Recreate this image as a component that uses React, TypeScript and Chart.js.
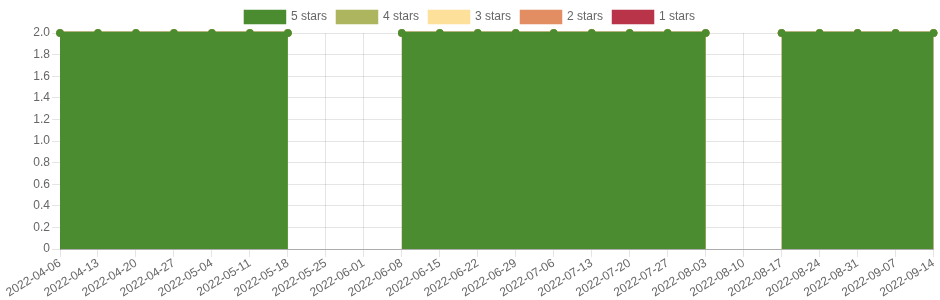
import React, { useEffect, useRef } from "react";
import { Chart, registerables } from "chart.js";

Chart.register(...registerables);

const labels = [
  "2022-04-06", "2022-04-13", "2022-04-20", "2022-04-27", "2022-05-04", "2022-05-11",
  "2022-05-18", "2022-05-25", "2022-06-01", "2022-06-08", "2022-06-15", "2022-06-22",
  "2022-06-29", "2022-07-06", "2022-07-13", "2022-07-20", "2022-07-27", "2022-08-03",
  "2022-08-10", "2022-08-17", "2022-08-24", "2022-08-31", "2022-09-07", "2022-09-14",
];

const stars5 = [2, 2, 2, 2, 2, 2, 2, null, null, 2, 2, 2, 2, 2, 2, 2, 2, 2, null, 2, 2, 2, 2, 2];
const stars4 = [0, 0, 0, 0, 0, 0, 0, null, null, 0, 0, 0, 0, 0, 0, 0, 0, 0, null, 0, 0, 0, 0, 0];
const stars3 = [0, 0, 0, 0, 0, 0, 0, null, null, 0, 0, 0, 0, 0, 0, 0, 0, 0, null, 0, 0, 0, 0, 0];
const stars2 = [0, 0, 0, 0, 0, 0, 0, null, null, 0, 0, 0, 0, 0, 0, 0, 0, 0, null, 0, 0, 0, 0, 0];
const stars1 = [0, 0, 0, 0, 0, 0, 0, null, null, 0, 0, 0, 0, 0, 0, 0, 0, 0, null, 0, 0, 0, 0, 0];

const seriesNames = ["5 stars", "4 stars", "3 stars", "2 stars", "1 stars"];
const seriesColors = ["#4a8c2f", "#adb55e", "#fde09a", "#e38d62", "#b93448"];

export default function App() {
  const ref = useRef<HTMLCanvasElement>(null);
  useEffect(() => {
    document.body.style.margin = "0";
    const values = [stars5, stars4, stars3, stars2, stars1];
    const font = { family: "'Liberation Sans', Arial, sans-serif", size: 12 };
    const chart = new Chart(ref.current!, {
      type: "line",
      data: {
        labels,
        datasets: values.map((v, i) => ({
          label: seriesNames[i],
          data: v,
          borderColor: seriesColors[i],
          backgroundColor: seriesColors[i],
          pointBackgroundColor: seriesColors[i],
          pointBorderColor: seriesColors[i],
          pointRadius: 3.5,
          pointBorderWidth: 1,
          borderWidth: 2.5,
          fill: "origin",
          tension: 0,
          clip: false,
        })),
      },
      options: {
        animation: false,
        responsive: false,
        maintainAspectRatio: false,
        layout: { padding: { top: 1 } },
        plugins: {
          legend: {
            labels: { font, color: "#666", boxWidth: 40 },
          },
          tooltip: { enabled: false },
        },
        scales: {
          x: {
            stacked: true,
            ticks: {
              font,
              color: "#666",
              autoSkip: false,
              minRotation: 31,
              maxRotation: 31,
              padding: -1,
            },
            grid: { color: "rgba(0,0,0,0.1)" },
            border: { color: "rgba(0,0,0,0.25)" },
            afterFit: (scale: any) => {
              scale.height = 51;
            },
          },
          y: {
            stacked: true,
            min: 0,
            max: 2,
            ticks: { stepSize: 0.2, font, color: "#666", padding: 2 },
            grid: { color: "rgba(0,0,0,0.1)" },
            border: { color: "rgba(0,0,0,0.25)" },
            afterFit: (scale: any) => {
              scale.width = 60;
            },
          },
        },
      },
    });
    return () => chart.destroy();
  }, []);
  return (
    <div style={{ width: 940, height: 300 }}>
      <canvas ref={ref} width={940} height={300} style={{ width: 940, height: 300 }} />
    </div>
  );
}
